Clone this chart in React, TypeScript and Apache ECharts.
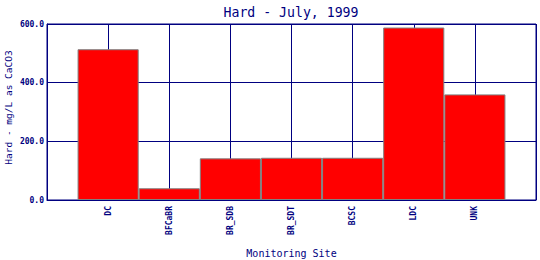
import React, { useEffect, useRef } from "react";
import * as echarts from "echarts";

const title = "Hard - July, 1999";
const categories = ["DC", "BFCaBR", "BR_SDB", "BR_SDT", "BCSC", "LDC", "UNK"];
const values = [514, 40, 142, 144, 144, 588, 360];
const yTicks = [0, 200, 400, 600];
const yName = "Hard - mg/L as CaCO3";
const xName = "Monitoring Site";

const NAVY = "#000080";
const FONT = "DejaVu Sans Mono";

export default function App() {
  const ref = useRef<HTMLDivElement>(null);
  useEffect(() => {
    if (!ref.current) return;
    const chart = echarts.init(ref.current, undefined, { renderer: "svg" });
    const axisData = ["", ...categories, ""];
    const seriesData = [null, ...values, null];
    chart.setOption({
      animation: false,
      backgroundColor: "#ffffff",
      title: {
        text: title,
        left: 286,
        top: 1,
        textAlign: "center",
        textStyle: { color: NAVY, fontFamily: FONT, fontSize: 13.2, fontWeight: "normal" },
      },
      grid: {
        left: 47,
        right: 4,
        top: 24,
        bottom: 60,
        show: true,
        borderColor: NAVY,
        borderWidth: 1,
        containLabel: false,
        outerBoundsMode: "none",
      },
      xAxis: {
        type: "category",
        data: axisData,
        boundaryGap: false,
        name: xName,
        nameLocation: "middle",
        nameGap: 48,
        nameMoveOverlap: false,
        nameTextStyle: { color: NAVY, fontFamily: FONT, fontSize: 10 },
        axisLine: { show: true, lineStyle: { color: NAVY, width: 1 } },
        axisTick: { show: false },
        axisLabel: {
          interval: 0,
          rotate: 90,
          margin: 6,
          color: NAVY,
          fontFamily: FONT,
          fontSize: 8,
          fontWeight: "bold",
        },
        splitLine: { show: true, interval: 0, lineStyle: { color: NAVY, width: 1 } },
      },
      yAxis: {
        type: "value",
        min: yTicks[0],
        max: yTicks[yTicks.length - 1],
        interval: yTicks[1] - yTicks[0],
        name: yName,
        nameLocation: "middle",
        nameGap: 34,
        nameMoveOverlap: false,
        nameTextStyle: { color: NAVY, fontFamily: FONT, fontSize: 9.5, padding: [0, 0, 0, 9] },
        axisLine: { show: true, lineStyle: { color: NAVY, width: 1 } },
        axisTick: { show: false },
        axisLabel: {
          margin: 3,
          color: NAVY,
          fontFamily: FONT,
          fontSize: 8,
          fontWeight: "bold",
          formatter: (v: number) => v.toFixed(1),
        },
        splitLine: { show: true, lineStyle: { color: NAVY, width: 1 } },
      },
      series: [
        {
          type: "bar",
          data: seriesData,
          barWidth: "100%",
          itemStyle: { color: "#ff0000", borderColor: "#808080", borderWidth: 1 },
        },
      ],
    });
    return () => chart.dispose();
  }, []);
  return <div ref={ref} style={{ width: 540, height: 260, position: "absolute", left: 0, top: 0 }} />;
}
